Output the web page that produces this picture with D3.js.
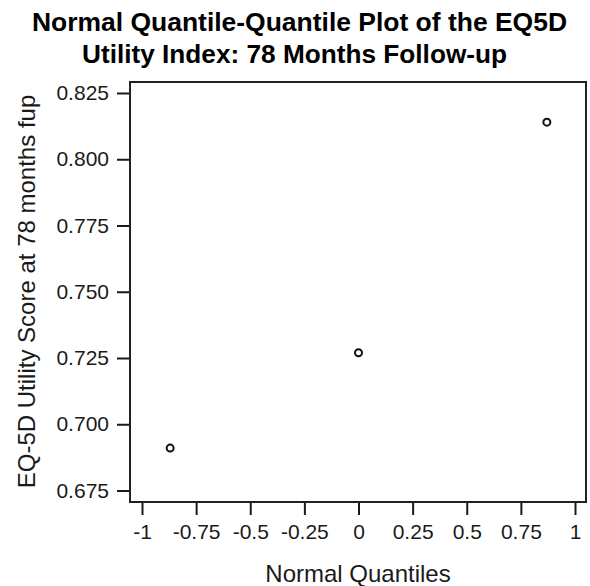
<!DOCTYPE html>
<html>
<head>
<meta charset="utf-8">
<script src="https://cdn.jsdelivr.net/npm/d3@7"></script>
<style>
  body { margin: 0; background: #fff; }
  text { font-family: "Liberation Sans", Arial, sans-serif; fill: #1a1a1a; }
</style>
</head>
<body>
<div id="chart"></div>
<script>
// normal quantiles (x) and observed EQ-5D utility scores (y)
const quantiles = [-0.87, 0, 0.87];
const scores = [0.691, 0.727, 0.814];

const xTicks = [-1, -0.75, -0.5, -0.25, 0, 0.25, 0.5, 0.75, 1];
const xTickLabels = ['-1', '-0.75', '-0.5', '-0.25', '0', '0.25', '0.5', '0.75', '1'];
const yTicks = [0.675, 0.7, 0.725, 0.75, 0.775, 0.8, 0.825];
const yTickLabels = ['0.675', '0.700', '0.725', '0.750', '0.775', '0.800', '0.825'];

const titleLines = ['Normal Quantile-Quantile Plot of the EQ5D', 'Utility Index: 78 Months Follow-up'];
const xTitle = 'Normal Quantiles';
const yTitle = 'EQ-5D Utility Score at 78 months fup';

const width = 590;
const height = 586;
const frame = { left: 130, right: 586, top: 82, bottom: 502 };

const svg = d3.select('#chart')
  .append('svg')
  .attr('width', width)
  .attr('height', height);

const x = d3.scaleLinear().domain([-1, 1]).range([142, 575]);
const y = d3.scaleLinear().domain([0.675, 0.825]).range([490.5, 93]);

// title
svg.selectAll('text.title')
  .data(titleLines)
  .enter().append('text')
  .attr('class', 'title')
  .attr('x', (d, i) => i === 0 ? 299.5 : 294.5)
  .attr('y', (d, i) => i === 0 ? 31 : 63)
  .attr('text-anchor', 'middle')
  .attr('textLength', (d, i) => i === 0 ? 535 : 425)
  .attr('lengthAdjust', 'spacingAndGlyphs')
  .style('font-family', '"Liberation Sans Narrow", "Liberation Sans", Arial, sans-serif')
  .style('font-weight', 'bold')
  .style('font-size', '25px')
  .style('fill', '#000')
  .text(d => d);

// axes
const xAxis = d3.axisBottom(x)
  .tickValues(xTicks)
  .tickFormat((d, i) => xTickLabels[i])
  .tickSize(13)
  .tickPadding(9);

const yAxis = d3.axisLeft(y)
  .tickValues(yTicks)
  .tickFormat((d, i) => yTickLabels[i])
  .tickSize(13)
  .tickPadding(8);

const gx = svg.append('g')
  .attr('transform', `translate(0,${frame.bottom})`)
  .call(xAxis);
const gy = svg.append('g')
  .attr('transform', `translate(${frame.left},0)`)
  .call(yAxis);

[gx, gy].forEach(g => {
  g.select('.domain').remove();
  g.selectAll('.tick line').attr('stroke', '#1a1a1a').attr('stroke-width', 2);
  g.selectAll('.tick text')
    .style('font-size', '21px')
    .style('font-family', '"Liberation Sans", Arial, sans-serif')
    .attr('fill', '#1a1a1a');
});

// frame
svg.append('rect')
  .attr('x', frame.left)
  .attr('y', frame.top)
  .attr('width', frame.right - frame.left)
  .attr('height', frame.bottom - frame.top)
  .attr('fill', 'none')
  .attr('stroke', '#222')
  .attr('stroke-width', 2);

// points
svg.selectAll('circle.pt')
  .data(quantiles.map((q, i) => ({ q, v: scores[i] })))
  .enter().append('circle')
  .attr('class', 'pt')
  .attr('cx', d => x(d.q))
  .attr('cy', d => y(d.v))
  .attr('r', 3.5)
  .attr('fill', 'none')
  .attr('stroke', '#111')
  .attr('stroke-width', 2);

// axis titles
svg.append('text')
  .attr('x', 358)
  .attr('y', 582)
  .attr('text-anchor', 'middle')
  .style('font-size', '24px')
  .text(xTitle);

svg.append('text')
  .attr('transform', 'translate(35,291.5) rotate(-90)')
  .attr('text-anchor', 'middle')
  .style('font-size', '24px')
  .text(yTitle);
</script>
</body>
</html>
